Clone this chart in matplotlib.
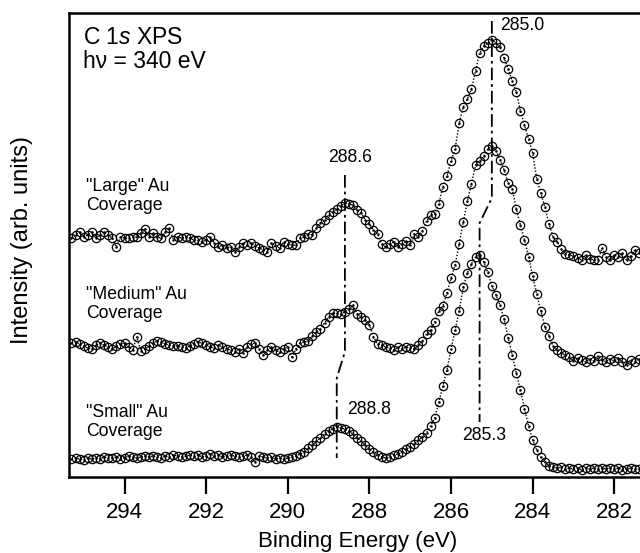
import numpy as np
import matplotlib.pyplot as plt

plt.rcParams['font.family'] = ['Liberation Sans', 'DejaVu Sans']
plt.rcParams['mathtext.fontset'] = 'custom'
plt.rcParams['mathtext.rm'] = 'Liberation Sans'
plt.rcParams['mathtext.it'] = 'Liberation Sans:italic'

# binding energy grid of the scans (eV), 0.1 eV steps downwards
e_start, e_step = 295.3, 0.1

# intensities (arb. units)
large = [239, 242, 245, 240, 242, 245, 239, 242, 245, 242,
         239, 230, 240, 239, 239, 240, 240, 244, 248, 240,
         244, 240, 239, 245, 249, 237, 240, 239, 240, 239,
         237, 237, 235, 237, 240, 234, 230, 232, 229, 230,
         225, 230, 234, 232, 234, 231, 229, 227, 225, 234,
         231, 229, 235, 233, 232, 232, 239, 240, 243, 242,
         249, 254, 257,
         262, 265, 268, 271, 274, 273, 272, 267, 264, 257,
         253, 247, 243, 233, 230, 233, 235, 230, 233, 236,
         232, 243, 240, 246, 256, 262, 263, 273, 290, 301,
         316, 328, 354, 370, 378, 388, 406, 424, 431, 434,
         437, 434, 430, 419, 408, 396, 385, 366, 352, 338,
         324, 298, 284, 270, 253, 240, 235, 228, 223, 222,
         221, 219, 217, 222, 218, 217, 217, 229, 220, 217,
         222, 220, 224, 217, 221, 227, 224]

medium = [134, 135, 133, 131, 129, 128, 132, 134, 132, 130,
          128, 131, 133, 134, 130, 127, 140, 126, 128, 131,
          134, 136, 135, 133, 132, 131, 131, 130, 129, 131,
          133, 135, 134, 132, 130, 129, 132, 130, 128, 127,
          125, 128, 124, 130, 133, 134, 128, 122, 127, 130,
          127, 125, 128, 130, 120, 128, 134, 135, 136,
          141, 145, 148, 154,
          160, 164, 164, 163, 165, 168, 172, 163, 160, 157,
          152, 140, 133, 132, 130, 129, 127, 130, 128, 130,
          129, 128, 132, 136, 143, 147, 155, 166, 171, 184,
          199, 212, 233, 255, 276, 293, 312, 316, 321, 328,
          331, 326, 317, 307, 294, 288, 268, 252, 237, 220,
          201, 183, 166, 150, 141, 131, 127, 124, 122, 120,
          116, 119, 117, 115, 118, 116, 121, 117, 115, 118,
          116, 119, 115, 112, 117, 115, 118]

small = [18, 19, 18, 17, 19, 18, 19, 18, 20, 19,
         19, 20, 18, 19, 21, 20, 19, 20, 21, 20,
         21, 20, 19, 21, 20, 22, 21, 20, 21, 22,
         21, 22, 20, 21, 23, 21, 22, 20, 21, 22,
         21, 20, 21, 22, 20, 15, 21, 20, 19, 20,
         18, 19, 18,
         19, 20, 21, 23, 25, 29, 32, 36, 39, 43,
         46, 48, 50, 49, 48, 46, 43, 39, 36, 32,
         28, 25, 22, 20, 19, 20, 22, 23, 25, 28,
         30, 33, 37, 40, 44, 51, 59, 75, 91, 107,
         128, 147, 166, 190, 204, 213, 220, 222, 215, 205,
         191, 182, 172, 158, 139, 122, 104, 87, 68, 51,
         37, 27, 20, 15, 11, 10, 9, 10, 8, 9,
         8, 9, 7, 9, 8, 9, 8, 9, 8, 9,
         8, 9, 7, 8, 9, 8, 8]

labels = ['"Large" Au\nCoverage', '"Medium" Au\nCoverage', '"Small" Au\nCoverage']
label_y = [281, 173, 55]

# peak positions marked by the guide lines
main_peaks = [285.0, 285.3]
carbonyl_peaks = [288.6, 288.8]

energy = np.round(e_start - e_step * np.arange(len(small)), 1)

fig = plt.figure(figsize=(6.4, 5.53), dpi=100)
ax = fig.add_axes([68.6 / 640, 1 - 477 / 553, 1 - 68.6 / 640, 464 / 553])

for spec in [large, medium, small]:
    ax.plot(energy, spec, ls=(0, (1, 1.3)), lw=1.0, color='black',
            marker='o', ms=6, mfc='none', mec='black', mew=0.9)
    ax.plot(energy, spec, ls='none', marker='.', ms=1.5, color='black')

dashdot = (0, (7, 2.2, 1.5, 2.2))
ax.plot([main_peaks[0], main_peaks[0], main_peaks[1], main_peaks[1]],
        [456, 279, 254, 55], color='black', lw=1.3, ls=dashdot)
ax.plot([carbonyl_peaks[0], carbonyl_peaks[0], carbonyl_peaks[1], carbonyl_peaks[1]],
        [302, 125, 99, 19], color='black', lw=1.3, ls=dashdot)

fs = 12.7
ax.text(284.79, 451, f'{main_peaks[0]:.1f}', fontsize=fs, ha='left', va='center')
ax.text(285.19, 41, f'{main_peaks[1]:.1f}', fontsize=fs, ha='center', va='center')
ax.text(288.47, 319, f'{carbonyl_peaks[0]:.1f}', fontsize=fs, ha='center', va='center')
ax.text(288.55, 67, f'{carbonyl_peaks[1]:.1f}', fontsize=fs, ha='left', va='center')

for lab, y in zip(labels, label_y):
    ax.text(294.94, y, lab, fontsize=fs, ha='left', va='center', linespacing=1.1)

ax.text(295.02, 440, r'C 1$\it{s}$ XPS', fontsize=16.5, ha='left', va='center')
ax.text(295.02, 415, 'h\u03bd = 340 eV', fontsize=16.5, ha='left', va='center')

ax.set_xlim(295.37, 281.37)
ax.set_ylim(0, 464)
ax.set_xticks([294, 292, 290, 288, 286, 284, 282])
ax.set_yticks([])
for s in ['left', 'top', 'bottom']:
    ax.spines[s].set_linewidth(1.8)
ax.spines['right'].set_visible(False)
ax.tick_params(axis='x', direction='out', length=12, width=1.6, pad=6, labelsize=16)

fig.text(358 / 640, 1 - 541 / 553, 'Binding Energy (eV)', fontsize=16, ha='center', va='center')
fig.text(22 / 640, 1 - 240 / 553, 'Intensity (arb. units)', fontsize=17,
         rotation=90, ha='center', va='center')

fig.savefig('out.png', dpi=100)
